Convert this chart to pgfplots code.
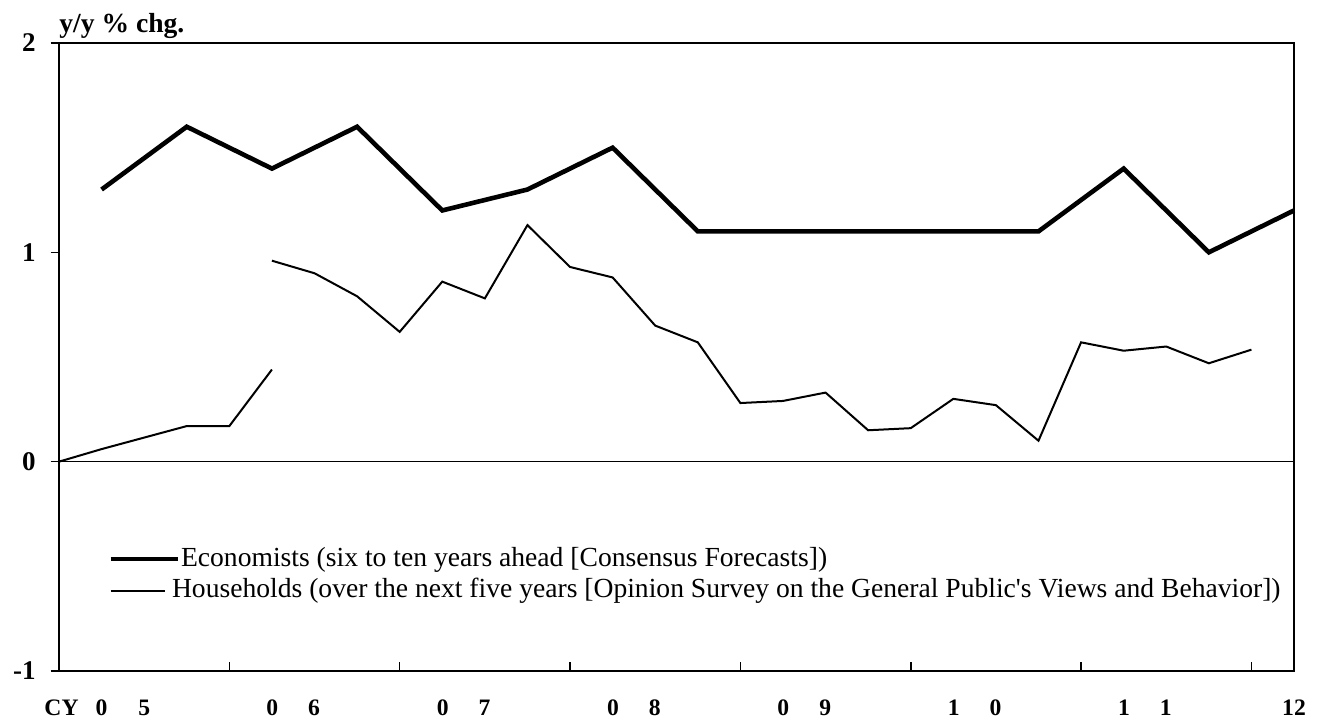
\documentclass[border=0pt]{standalone}
\usepackage{fontspec}
\setmainfont{Liberation Serif}
\usepackage{pgfplots}
\pgfplotsset{compat=1.18}
\pgfplotsset{
  econimg/.style={legend image code/.code={\draw[##1] (0pt,0pt) -- (33.5pt,0pt);}},
  hhimg/.style={legend image code/.code={\draw[##1] (0pt,0pt) -- (27pt,0pt);}},
}
\begin{document}
\begin{tikzpicture}
\useasboundingbox (-29.5pt,-28pt) rectangle (634pt,335.5pt);
\begin{axis}[
  at={(0pt,0pt)}, anchor=south west,
  scale only axis, width=617.5pt, height=314pt,
  xmin=0, xmax=29, ymin=-1, ymax=2,
  clip=false,
  axis line style={line width=1.1pt},
  tick pos=left,
  tick align=inside,
  major tick length=4.25pt,
  tick style={line width=0.8pt, black},
  y tick style={xshift=-4.25pt},
  xtick={4,8,...,28}, xticklabels={},
  extra x ticks={1.5,5.5,9.5,13.5,17.5,21.5,25.5,29},
  extra x tick labels={{\llap{CY\hspace{8.5pt}}0\hspace{15.5pt}5},{0\hspace{15pt}6},{0\hspace{15pt}7},{0\hspace{15pt}8},{0\hspace{15pt}9},{1\hspace{15pt}0},{1\hspace{15pt}1},{12}},
  extra x tick style={major tick length=0pt},
  xticklabel style={anchor=base, yshift=-22.5pt, inner sep=0pt, font=\bfseries\fontsize{11.8}{13}\selectfont},
  ytick={-1,0,1,2},
  yticklabel style={anchor=east, inner sep=0pt, xshift=-11.5pt, font=\bfseries\fontsize{13.5}{15}\selectfont},
  /pgf/number format/assume math mode=true,
  legend style={at={(0.0397,0.2)}, anchor=north west, draw=none, fill=none, inner sep=0pt,
    font=\fontsize{13.8}{15}\selectfont, row sep=2.5pt,
    nodes={inner xsep=0.5pt, inner ysep=0pt, text height=10.3pt, text depth=3pt},
    /tikz/every even column/.append style={column sep=0pt}},
  legend cell align=left,
]
\addplot[black, line width=0.65pt, forget plot] coordinates {(0,0) (29,0)};
\addplot[black, line width=2.3pt, line join=miter, econimg] coordinates {
(1,1.3) (3,1.6) (5,1.4) (7,1.6) (9,1.2) (11,1.3) (13,1.5) (15,1.1) (17,1.1) (19,1.1) (21,1.1) (23,1.1) (25,1.4) (27,1.0) (29,1.2)};
\addlegendentry{Economists (six to ten years ahead [Consensus Forecasts])}
\addplot[black, line width=1pt, line join=miter, forget plot] coordinates {
(0,0) (1,0.06) (2,0.115) (3,0.17) (4,0.17) (5,0.44)};
\addplot[black, line width=1pt, line join=miter, hhimg] coordinates {
(5,0.96) (6,0.90) (7,0.79) (8,0.62) (9,0.86) (10,0.78) (11,1.13) (12,0.93) (13,0.88) (14,0.65) (15,0.57) (16,0.28) (17,0.29) (18,0.33) (19,0.15) (20,0.16) (21,0.30) (22,0.27) (23,0.10) (24,0.57) (25,0.53) (26,0.55) (27,0.47) (28,0.535)};
\addlegendentry{\hspace{-4.5pt}Households (over the next five years [Opinion Survey on the General Public\textquotesingle s Views and Behavior])}
\node[anchor=base west, inner sep=0pt, font=\bfseries\fontsize{13.8}{15}\selectfont] at ([yshift=5pt]rel axis cs:0,1) {y/y \% chg.};
\end{axis}
\end{tikzpicture}
\end{document}
